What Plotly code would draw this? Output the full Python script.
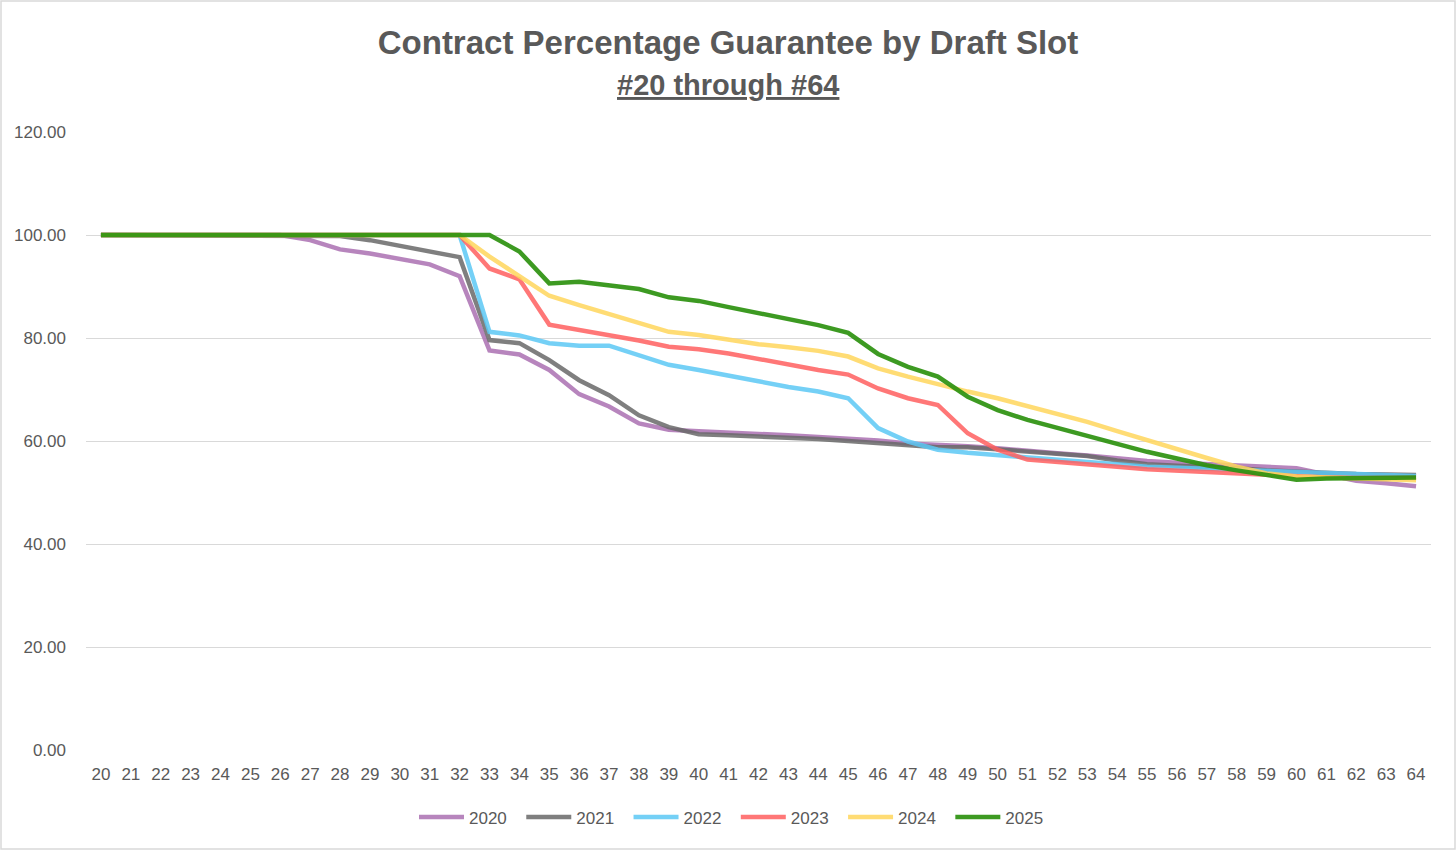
import plotly.graph_objects as go

# draft slots #20 through #64
slots = list(range(20, 65))

# percentage of contract guaranteed
pct_2020 = [100] * 7 + [99.0, 97.2, 96.4, 95.3, 94.3, 92.0, 77.6, 76.8, 73.8, 69.1, 66.7, 63.4,
                        62.2, 61.9, 61.7, 61.4, 61.1, 60.8, 60.5, 60.1, 59.5, 59.3, 59.0, 58.6,
                        58.0, 57.6, 57.2, 56.6, 56.1, 55.8, 55.6, 55.2, 55.0, 54.7, 53.4, 52.3,
                        51.8, 51.2]
pct_2021 = [100] * 8 + [99.8, 99.0, 97.9, 96.9, 95.7, 79.6, 79.0, 75.7, 71.8, 68.9, 65.0, 62.7,
                        61.3, 61.1, 60.9, 60.6, 60.4, 60.0, 59.6, 59.2, 58.8, 58.8, 58.4, 58.1,
                        57.6, 57.1, 56.2, 55.5, 55.2, 55.0, 54.7, 54.3, 54.0, 53.8, 53.6, 53.5,
                        53.4]
pct_2022 = [100] * 13 + [81.2, 80.5, 79.0, 78.5, 78.5, 76.7, 74.8, 73.8, 72.8, 71.6, 70.5, 69.6,
                         68.3, 62.5, 59.9, 58.3, 57.7, 57.3, 56.9, 56.4, 56.0, 55.5, 55.0, 54.8,
                         54.6, 54.3, 54.0, 53.8, 53.6, 53.4, 53.3, 53.2]
pct_2023 = [100] * 13 + [93.5, 91.4, 82.6, 81.6, 80.6, 79.5, 78.3, 77.8, 77.0, 75.9, 74.8, 73.8,
                         72.9, 70.2, 68.3, 67.0, 61.5, 58.3, 56.4, 56.0, 55.5, 55.0, 54.5, 54.2,
                         53.9, 53.6, 53.3, 53.0, 52.9, 52.8, 52.8, 52.8]
pct_2024 = [100] * 13 + [95.8, 91.9, 88.2, 86.4, 84.6, 82.8, 81.2, 80.6, 79.6, 78.8, 78.2, 77.5,
                         76.4, 74.1, 72.5, 71.0, 69.6, 68.3, 66.8, 65.3, 63.7, 61.9, 60.1, 58.4,
                         56.7, 55.0, 53.7, 53.1, 52.9, 52.7, 52.5, 52.4]
pct_2025 = [100] * 14 + [96.8, 90.6, 90.9, 90.3, 89.5, 87.9, 87.2, 86.0, 84.8, 83.7, 82.5, 81.0,
                         76.9, 74.4, 72.5, 68.6, 66.0, 64.1, 62.5, 60.9, 59.3, 57.9, 56.6, 55.3,
                         54.3, 53.3, 52.5, 52.7, 52.8, 52.9, 52.9]

years = ['2020', '2021', '2022', '2023', '2024', '2025']
series = [pct_2020, pct_2021, pct_2022, pct_2023, pct_2024, pct_2025]
colors = ['rgba(170,112,178,0.85)', 'rgba(105,105,105,0.85)', 'rgba(92,200,245,0.85)',
          'rgba(255,95,95,0.85)', 'rgba(255,214,92,0.85)', 'rgba(45,145,15,0.92)']

txt = '#595959'
W, H = 1456, 850
ml, mr, mt, mb = 86, 25, 132, 100
pw, ph = W - ml - mr, H - mt - mb
page_mid = (W / 2 - ml) / pw  # centre of the page in plot-area coordinates

fig = go.Figure()
for yr, vals, c in zip(years, series, colors):
    fig.add_trace(go.Scatter(x=slots, y=vals, name=yr + '\u00a0\u00a0', mode='lines',
                             line=dict(color=c, width=4.5)))

fig.update_layout(
    width=W, height=H,
    margin=dict(l=ml, r=mr, t=mt, b=mb),
    paper_bgcolor='white', plot_bgcolor='white',
    font=dict(family='Liberation Sans, Arial, sans-serif', size=17, color=txt),
    title=dict(text='<b>Contract Percentage Guarantee by Draft Slot</b>',
               x=0.5, xanchor='center', y=1 - 42 / H, yanchor='middle',
               font=dict(size=33, color=txt)),
    legend=dict(orientation='h', x=page_mid + 8 / pw, xanchor='center', y=-0.08, yanchor='top',
                font=dict(size=17, color=txt), itemwidth=45),
    showlegend=True,
)

fig.add_annotation(text='<b><u>#20 through #64</u></b>', xref='paper', yref='paper',
                   x=page_mid, y=1 + (mt - 85) / ph, xanchor='center', yanchor='middle',
                   showarrow=False, font=dict(size=29, color=txt))

fig.update_xaxes(range=[19.5, 64.5], dtick=1, tick0=20, showgrid=False, zeroline=False,
                 showline=False, ticks='', ticklabelstandoff=12,
                 tickfont=dict(size=17, color=txt))
fig.update_yaxes(range=[0, 120], dtick=20, tickformat='.2f', showgrid=True,
                 gridcolor='#d9d9d9', gridwidth=1, zeroline=False, showline=False,
                 ticks='', ticklabelstandoff=19, tickfont=dict(size=17, color=txt))

# light frame around the whole picture
fig.add_shape(type='rect', xref='paper', yref='paper',
              x0=-(ml - 1) / pw, x1=1 + (mr - 1) / pw,
              y0=-(mb - 1) / ph, y1=1 + (mt - 1) / ph,
              line=dict(color='#d9d9d9', width=1.5), layer='below')

fig.write_html('out.html', config={'displayModeBar': False},
               post_script="document.body.style.margin='0';")
